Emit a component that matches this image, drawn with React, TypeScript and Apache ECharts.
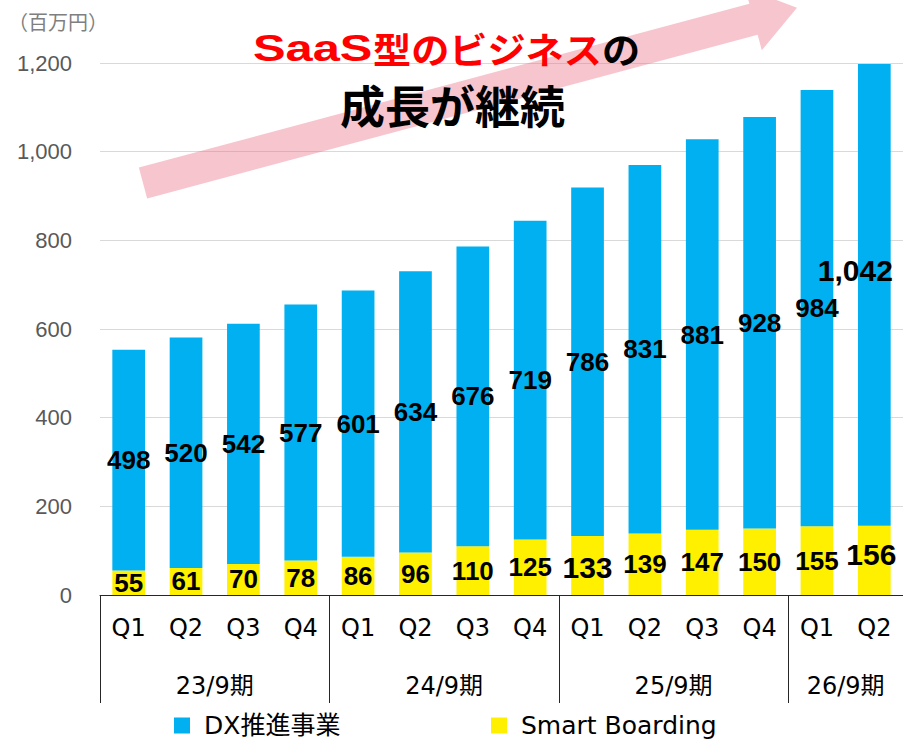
import React, { useEffect, useRef } from 'react';
import * as echarts from 'echarts';

const FONT = '"Liberation Sans", Arial, "Noto Sans CJK JP", sans-serif';
const AXFONT = '"DejaVu Sans", "Noto Sans CJK JP", sans-serif';
const CJK = '"Noto Sans CJK JP", sans-serif';

// ---- data ----
const quarters = ['Q1', 'Q2', 'Q3', 'Q4', 'Q1', 'Q2', 'Q3', 'Q4', 'Q1', 'Q2', 'Q3', 'Q4', 'Q1', 'Q2'];
const periods = ['23/9期', '24/9期', '25/9期', '26/9期'];
const periodQuarterCounts = [4, 4, 4, 2];
const smartBoarding = [55, 61, 70, 78, 86, 96, 110, 125, 133, 139, 147, 150, 155, 156];
const dxPromotion = [498, 520, 542, 577, 601, 634, 676, 719, 786, 831, 881, 928, 984, 1042];
const yMin = 0;
const yMax = 1200;
const yInterval = 200;
const unitLabel = '（百万円）';
const titleLine1Red1 = 'SaaS';
const titleLine1Red2 = '型のビジネス';
const titleLine1Black = 'の';
const titleLine2 = '成長が継続';

// group boundaries / centres derived from the period sizes
const boundaries: number[] = [];
const centers: number[] = [];
{
  let acc = 0;
  periodQuarterCounts.forEach((n) => {
    boundaries.push(acc);
    centers.push(acc + n / 2);
    acc += n;
  });
}

const fmt = (v: number) => Number(v).toLocaleString('en-US');

export default function App() {
  const ref = useRef<HTMLDivElement>(null);
  useEffect(() => {
    document.body.style.margin = '0';
    const chart = echarts.init(ref.current!, null, { renderer: 'svg' });

    const labelBase = {
      show: true,
      position: 'inside',
      fontSize: 26,
      fontWeight: 'bold',
      color: '#000',
      fontFamily: FONT,
      textBorderWidth: 0,
      formatter: (p: any) => fmt(p.value),
    };

    const sbData = smartBoarding.map((v, i) => {
      if (i === 8) return { value: v, label: { fontSize: 30, offset: [0, 2] } };
      if (i === 13) return { value: v, label: { fontSize: 30, offset: [-3, -6] } };
      return v;
    });
    const dxData = dxPromotion.map((v, i) => {
      if (i === 13) return { value: v, label: { fontSize: 30, offset: [-19, -24] } };
      return v;
    });

    // arrow geometry (decoration)
    const S = [143, 183];
    const d = [0.966, -0.259];
    const n = [0.259, 0.966];
    const w = 16, hw = 32, base = 632, tipL = 677;
    const pt = (along: number, perp: number) => [S[0] + along * d[0] + perp * n[0], S[1] + along * d[1] + perp * n[1]];
    const arrowPts = [pt(0, w), pt(base, w), pt(base, hw), pt(tipL, 0), pt(base, -hw), pt(base, -w), pt(0, -w)];

    const legendText = { fontSize: 25, color: '#000', fontFamily: AXFONT, padding: [0, 0, 0, 9] };

    const option: any = {
      animation: false,
      textStyle: { fontFamily: FONT },
      grid: { left: 100, top: 63, width: 808, height: 532, containLabel: false },
      legend: [
        {
          data: ['DX推進事業'],
          left: 174,
          top: 713,
          padding: 0,
          itemWidth: 16,
          itemHeight: 16,
          icon: 'rect',
          selectedMode: false,
          textStyle: legendText,
        },
        {
          data: ['Smart Boarding'],
          left: 491,
          top: 713,
          padding: 0,
          itemWidth: 16,
          itemHeight: 16,
          icon: 'rect',
          selectedMode: false,
          textStyle: legendText,
        },
      ],
      xAxis: [
        {
          type: 'category',
          data: quarters,
          position: 'bottom',
          axisLine: { show: true, lineStyle: { color: '#262626', width: 1 } },
          axisTick: { show: false },
          axisLabel: { interval: 0, margin: 21, fontSize: 24, color: '#000', fontFamily: AXFONT },
          splitLine: { show: false },
        },
        {
          type: 'value',
          position: 'bottom',
          min: 0,
          max: quarters.length,
          interval: 1,
          axisLine: { show: false },
          splitLine: { show: false },
          axisTick: {
            show: true,
            customValues: boundaries,
            length: 108,
            lineStyle: { color: '#262626', width: 1 },
          },
          axisLabel: {
            customValues: centers,
            margin: 79,
            fontSize: 24,
            color: '#000',
            fontFamily: AXFONT,
            formatter: (v: number) => {
              const idx = centers.indexOf(v);
              return idx >= 0 ? periods[idx] : '';
            },
          },
        },
      ],
      yAxis: {
        type: 'value',
        min: yMin,
        max: yMax,
        interval: yInterval,
        axisLine: { show: false },
        axisTick: { show: false },
        axisLabel: { margin: 28, fontSize: 22, color: '#595959', fontFamily: FONT, formatter: (v: number) => fmt(v) },
        splitLine: { show: true, lineStyle: { color: '#d9d9d9', width: 1 } },
      },
      series: [
        {
          name: 'Smart Boarding',
          type: 'bar',
          stack: 'total',
          barWidth: '57%',
          itemStyle: { color: '#FFF000' },
          label: labelBase,
          data: sbData,
        },
        {
          name: 'DX推進事業',
          type: 'bar',
          stack: 'total',
          barWidth: '57%',
          itemStyle: { color: '#00B0F0' },
          label: labelBase,
          data: dxData,
        },
      ],
      graphic: [
        {
          type: 'polygon',
          shape: { points: arrowPts },
          style: { fill: 'rgba(235,110,130,0.4)' },
          z: 1,
        },
        {
          type: 'text',
          x: 8,
          y: 21,
          style: { text: unitLabel, fontSize: 20, fontFamily: CJK, fill: '#7f7f7f', align: 'left', verticalAlign: 'middle' },
          z: 10,
        },
        {
          type: 'text',
          x: 253,
          y: 48,
          scaleX: 1.32,
          style: { text: titleLine1Red1, fontSize: 37, fontWeight: 'bold', fontFamily: FONT, fill: '#FF0000', align: 'left', verticalAlign: 'middle' },
          z: 10,
        },
        {
          type: 'text',
          x: 373,
          y: 48,
          scaleX: 1.06,
          style: { text: titleLine1Red2, fontSize: 36, fontWeight: 'bold', fontFamily: CJK, fill: '#FF0000', align: 'left', verticalAlign: 'middle' },
          z: 10,
        },
        {
          type: 'text',
          x: 602,
          y: 48,
          scaleX: 1.06,
          style: { text: titleLine1Black, fontSize: 36, fontWeight: 'bold', fontFamily: CJK, fill: '#000', align: 'left', verticalAlign: 'middle' },
          z: 10,
        },
        {
          type: 'text',
          x: 340,
          y: 104,
          style: { text: titleLine2, fontSize: 45, fontWeight: 'bold', fontFamily: CJK, fill: '#000', align: 'left', verticalAlign: 'middle' },
          z: 10,
        },
      ],
    };

    chart.setOption(option);
    return () => chart.dispose();
  }, []);
  return <div ref={ref} style={{ width: 903, height: 741 }} />;
}
